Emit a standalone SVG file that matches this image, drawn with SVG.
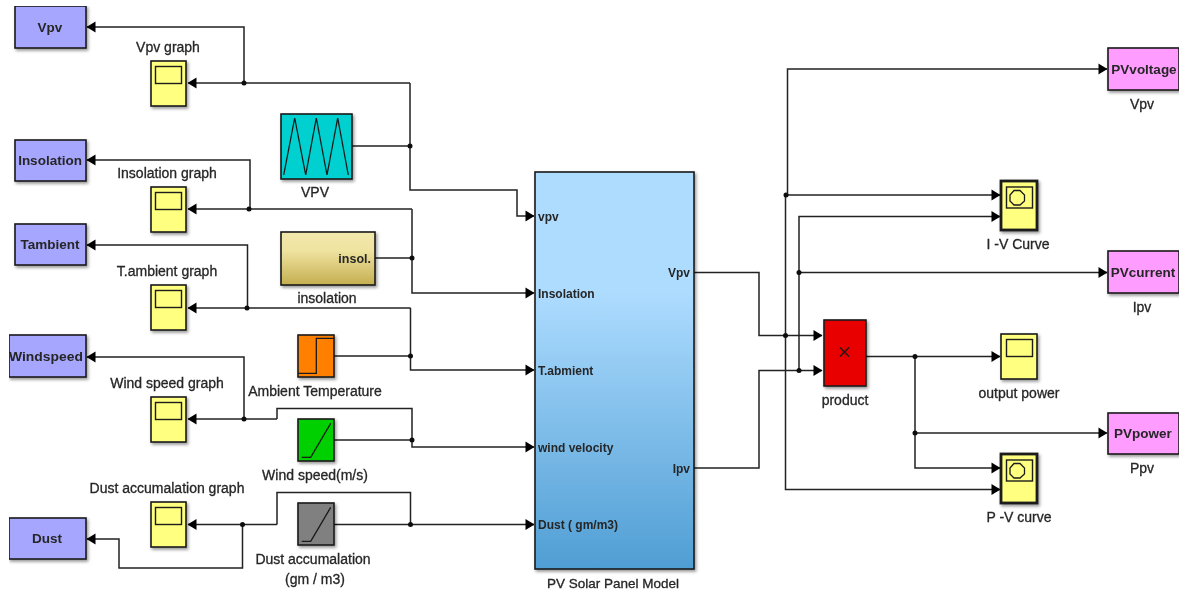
<svg xmlns="http://www.w3.org/2000/svg" width="1180" height="596" viewBox="0 0 1180 596">
<style>
text{font-family:"Liberation Sans",Arial,sans-serif;fill:#262626;text-anchor:middle}
.l{font-size:14px;stroke:#262626;stroke-width:.3}
.b{font-size:13.500px;font-weight:bold}
.p{font-size:12px;font-weight:bold;text-anchor:start}
.e{text-anchor:end}
.box{stroke:#1a1a1a;stroke-width:1.6;filter:url(#sh)}
.in{fill:#a6a6ff}.out{fill:#ff9cff}.sc{fill:#ffff80}
.scr{fill:none;stroke:#1a1a1a;stroke-width:1.4}
.thick{stroke-width:2.8}
.w{fill:none;stroke:#1a1a1a;stroke-width:1.3}
#wires path{fill:none;stroke:#222;stroke-width:1.5;marker-end:url(#a)}
#wires path.n{marker-end:none}
#wires circle{fill:#111}
</style>
<defs>
<marker id="a" markerUnits="userSpaceOnUse" markerWidth="12" markerHeight="12" refX="9" refY="6" orient="auto"><path d="M0.5 0.500L9.500 6L0.500 11.500Z" fill="#000"/></marker>
<filter id="sh" x="-20%" y="-20%" width="150%" height="150%"><feDropShadow dx="1.5" dy="2" stdDeviation="1.6" flood-color="#000" flood-opacity=".4"/></filter>
<filter id="soft" x="0" y="0" width="100%" height="100%"><feGaussianBlur stdDeviation=".45"/></filter>
<linearGradient id="main" x1="0" y1="0" x2="0" y2="1"><stop offset="0" stop-color="#aedcff"/><stop offset=".3" stop-color="#aedcff"/><stop offset="1" stop-color="#4f9ed4"/></linearGradient>
<linearGradient id="ins" x1="0" y1="0" x2="0" y2="1"><stop offset="0" stop-color="#f2e8ac"/><stop offset=".35" stop-color="#efe3a0"/><stop offset="1" stop-color="#c4ae50"/></linearGradient>
</defs>
<rect width="1180" height="596" fill="#fff"/>
<g filter="url(#soft)">
<g id="wires">
<path d="M244 83V27H87"/>
<path d="M410 83H188"/>
<path d="M352 146H410M410 83V190H517V216H534"/>
<path d="M250 209V160H87"/>
<path d="M412 209H188"/>
<path d="M375 258H412M412 209V293H534"/>
<path d="M247.500 308V245H87"/>
<path d="M410.500 308H188"/>
<path d="M334 356H410.500M410.500 308V370H534"/>
<path d="M244 419V357H87"/>
<path d="M277 419H188"/>
<path d="M334 440H412M277 419V408.500H412V447H534"/>
<path d="M277 524.500H188"/>
<path class="n" d="M277 524.500V492.500H410.500V524.500"/>
<path d="M334 524.500H534"/>
<path d="M242.500 524.500V568H119V539H87"/>
<path d="M694 272.500H759V335.500H822"/>
<path d="M694 468H759V370.500H822"/>
<path d="M785.500 335.500V195H787.500V69H1107"/>
<path d="M785.500 195H1000"/>
<path d="M799 370.500V216.500H1000"/>
<path d="M799 272.500H1107"/>
<path d="M785.500 335.500V489.500H1000"/>
<path d="M866 356.500H1000"/>
<path d="M915 356.500V468H1000"/>
<path d="M915 433H1107"/>
<circle cx="244" cy="83" r="2.500"/><circle cx="410" cy="146" r="2.500"/>
<circle cx="249" cy="209" r="2.500"/><circle cx="412" cy="258" r="2.500"/>
<circle cx="247" cy="308" r="2.500"/><circle cx="410.500" cy="356" r="2.500"/>
<circle cx="244" cy="419" r="2.500"/><circle cx="412" cy="440" r="2.500"/>
<circle cx="242.500" cy="524.500" r="2.500"/><circle cx="410.500" cy="524.500" r="2.500"/>
<circle cx="785.500" cy="335.500" r="2.500"/><circle cx="799" cy="370.500" r="2.500"/>
<circle cx="786" cy="195" r="2.500"/><circle cx="799" cy="272.500" r="2.500"/>
<circle cx="915" cy="356.500" r="2.500"/><circle cx="915" cy="433" r="2.500"/>
</g>
<g id="out-vpv"><rect class="box in" x="15" y="6" width="71" height="42"/><text class="b" x="50" y="32">Vpv</text></g>
<g id="out-insolation"><rect class="box in" x="15" y="140" width="71" height="41"/><text class="b" x="50" y="165">Insolation</text></g>
<g id="out-tambient"><rect class="box in" x="15" y="224" width="71" height="41"/><text class="b" x="50" y="249">Tambient</text></g>
<g id="out-windspeed"><rect class="box in" x="9" y="335" width="77" height="42"/><text class="b" x="46" y="361" textLength="74" lengthAdjust="spacingAndGlyphs">Windspeed</text></g>
<g id="out-dust"><rect class="box in" x="9" y="518" width="77" height="41"/><text class="b" x="47" y="543">Dust</text></g>
<g id="scope-vpv"><rect class="box sc" x="151" y="61" width="35" height="45"/><rect class="scr" x="155.500" y="66.500" width="26" height="17"/><text class="l" x="168" y="52">Vpv graph</text></g>
<g id="scope-insolation"><rect class="box sc" x="151" y="187" width="35" height="45"/><rect class="scr" x="155.500" y="192.500" width="26" height="17"/><text class="l" x="167" y="178">Insolation graph</text></g>
<g id="scope-tambient"><rect class="box sc" x="151" y="285" width="35" height="45"/><rect class="scr" x="155.500" y="290.500" width="26" height="17"/><text class="l" x="167" y="276">T.ambient graph</text></g>
<g id="scope-wind"><rect class="box sc" x="151" y="397" width="35" height="45"/><rect class="scr" x="155.500" y="402.500" width="26" height="17"/><text class="l" x="167" y="388">Wind speed graph</text></g>
<g id="scope-dust"><rect class="box sc" x="151" y="502" width="35" height="45"/><rect class="scr" x="155.500" y="507.500" width="26" height="17"/><text class="l" x="167" y="493">Dust accumalation graph</text></g>
<g id="vpv-source"><rect class="box" x="281" y="114" width="71" height="65" fill="#00d0d0"/><path class="w" d="M283.700 175L294.700 118L305.700 175L316.300 118L327 175L337.700 118L348.300 175"/><text class="l" x="315" y="197">VPV</text></g>
<g id="insolation-source"><rect class="box" x="281" y="232" width="94" height="53" fill="url(#ins)"/><text class="b" x="371" y="263" style="text-anchor:end;font-size:12.500px">insol.</text><text class="l" x="327" y="303">insolation</text></g>
<g id="ambient-temperature"><rect class="box" x="298" y="335" width="36" height="42" fill="#ff8000"/><path class="w" d="M298 373.300H316.300V338.300H334"/><text class="l" x="315" y="396">Ambient Temperature</text></g>
<g id="wind-speed"><rect class="box" x="298" y="419" width="36" height="42" fill="#00d000"/><path class="w" d="M301.700 457.300H310.700L330.700 423.300"/><text class="l" x="315" y="480">Wind speed(m/s)</text></g>
<g id="dust-accumulation"><rect class="box" x="298" y="503" width="36" height="42" fill="#808080"/><path class="w" d="M301.700 541.300H310.700L330.700 507.300"/><text class="l" x="313" y="564">Dust accumalation</text><text class="l" x="315" y="584">(gm / m3)</text></g>
<g id="pv-model"><rect class="box" x="535" y="172" width="159" height="397" fill="url(#main)"/>
<text class="p" x="538" y="221">vpv</text><text class="p" x="538" y="298">Insolation</text><text class="p" x="538" y="375">T.abmient</text><text class="p" x="538" y="452">wind velocity</text><text class="p" x="538" y="529">Dust ( gm/m3)</text>
<text class="p e" x="690" y="277">Vpv</text><text class="p e" x="690" y="473">Ipv</text>
<text class="l" x="613" y="588" style="font-size:13.500px">PV Solar Panel Model</text></g>
<g id="product"><rect class="box" x="824" y="320" width="42" height="66" fill="#e80000"/><path class="w" d="M840 347.500L849 356.500M849 347.500L840 356.500"/><text class="l" x="845" y="405">product</text></g>
<g id="pvvoltage"><rect class="box out" x="1108" y="48" width="71" height="42"/><text class="b" x="1144" y="74">PVvoltage</text><text class="l" x="1142" y="109">Vpv</text></g>
<g id="pvcurrent"><rect class="box out" x="1108" y="251" width="71" height="42"/><text class="b" x="1143" y="277">PVcurrent</text><text class="l" x="1142" y="312">Ipv</text></g>
<g id="pvpower"><rect class="box out" x="1108" y="413" width="71" height="41"/><text class="b" x="1143" y="438">PVpower</text><text class="l" x="1142" y="473">Ppv</text></g>
<g id="iv-curve"><rect class="box sc thick" x="1001" y="181" width="36" height="49"/><rect class="scr" x="1006.500" y="187" width="26" height="21"/><path class="w" d="M1014 190.500H1020L1024.500 195V201L1020 205H1014L1010 201V195Z"/><text class="l" x="1018" y="249">I -V Curve</text></g>
<g id="output-power"><rect class="box sc" x="1001" y="334" width="36" height="45"/><rect class="scr" x="1006.500" y="339.500" width="26" height="17"/><text class="l" x="1019" y="398">output power</text></g>
<g id="pv-curve"><rect class="box sc thick" x="1001" y="454" width="36" height="49"/><rect class="scr" x="1006.500" y="460" width="26" height="21"/><path class="w" d="M1014 463.500H1020L1024.500 468V474L1020 478H1014L1010 474V468Z"/><text class="l" x="1019" y="522">P -V curve</text></g>
</g>
</svg>
